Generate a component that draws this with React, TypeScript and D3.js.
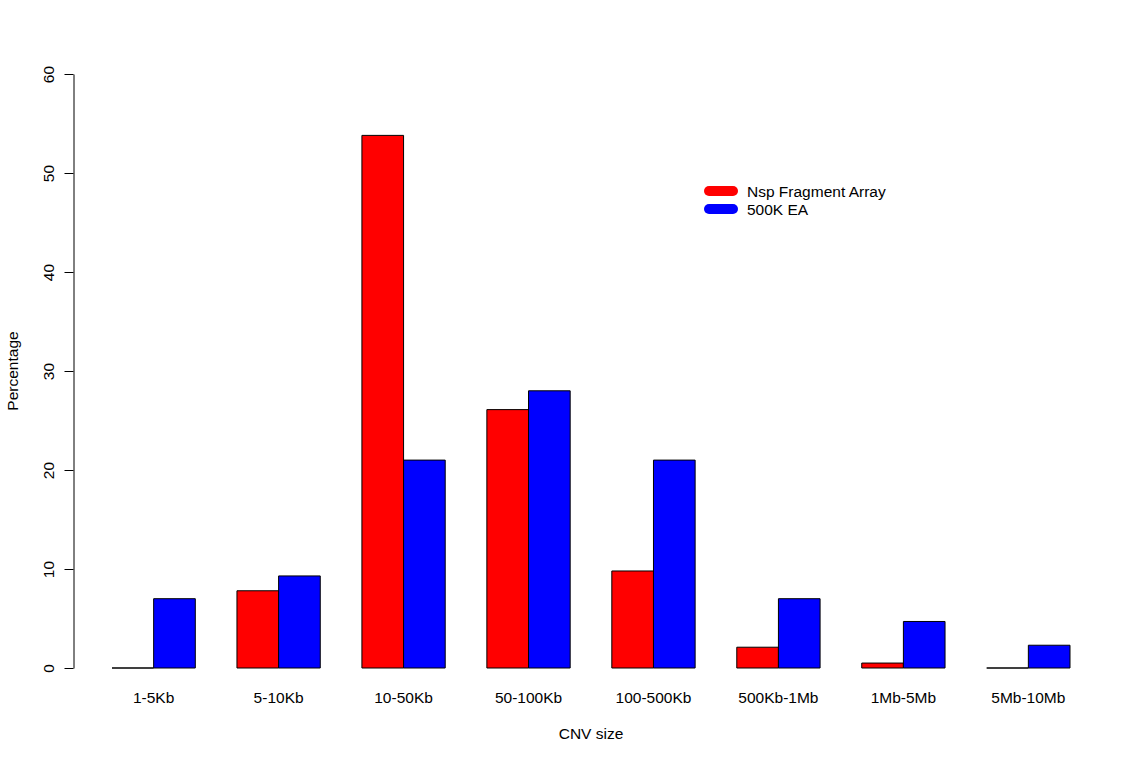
import { useEffect, useRef } from 'react';
import * as d3 from 'd3';

const WIDTH = 1146;
const HEIGHT = 760;

const CATEGORIES = ['1-5Kb', '5-10Kb', '10-50Kb', '50-100Kb', '100-500Kb', '500Kb-1Mb', '1Mb-5Mb', '5Mb-10Mb'];
const SERIES = ['Nsp Fragment Array', '500K EA'];
const NSP_VALUES = [0, 7.8, 53.8, 26.1, 9.8, 2.1, 0.5, 0];
const EA_VALUES = [7.0, 9.3, 21.0, 28.0, 21.0, 7.0, 4.7, 2.3];
const Y_TICKS = [0, 10, 20, 30, 40, 50, 60];
const COLORS = ['#ff0000', '#0000ff'];

const FONT = '"Liberation Sans", Arial, sans-serif';
const FONT_SIZE = 15.5;

export default function App() {
  const svgRef = useRef<SVGSVGElement>(null);

  useEffect(() => {
    if (!svgRef.current) return;
    const svg = d3.select(svgRef.current);
    svg.selectAll('*').remove();

    // scales — plot area taken from the reference pixels
    const x = d3.scaleBand<string>().domain(CATEGORIES).range([112, 1070]).paddingInner(1 / 3).paddingOuter(0);
    const xInner = d3.scaleBand<string>().domain(SERIES).range([0, x.bandwidth()]);
    const y = d3.scaleLinear().domain([0, 60]).range([668, 74]);

    const rows = CATEGORIES.map((c, i) => ({ cat: c, values: [NSP_VALUES[i], EA_VALUES[i]] }));

    // bars (paths so that zero-height bars still show as a line)
    const groups = svg.append('g')
      .selectAll('g')
      .data(rows)
      .join('g')
      .attr('transform', (d) => `translate(${x(d.cat)},0)`);

    groups.selectAll('path')
      .data((d) => d.values.map((v, j) => ({ v, s: SERIES[j], j })))
      .join('path')
      .attr('d', (d) => {
        const x0 = xInner(d.s)!;
        const x1 = x0 + xInner.bandwidth();
        return `M${x0},${y(0)}H${x1}V${y(d.v)}H${x0}Z`;
      })
      .attr('fill', (d) => COLORS[d.j])
      .attr('stroke', '#000')
      .attr('stroke-width', 1);

    // y axis
    const yAxis = svg.append('g')
      .attr('transform', 'translate(73.5,0)')
      .call(d3.axisLeft(y).tickValues(Y_TICKS).tickSize(9).tickSizeOuter(0).tickFormat(d3.format('d')));
    yAxis.select('.domain').attr('stroke', '#000');
    yAxis.selectAll('.tick line').attr('stroke', '#000');
    yAxis.selectAll<SVGTextElement, number>('.tick text')
      .attr('x', null)
      .attr('dy', null)
      .attr('transform', 'translate(-19.5,0) rotate(-90)')
      .attr('text-anchor', 'middle')
      .attr('fill', '#000')
      .attr('font-size', FONT_SIZE)
      .attr('font-family', FONT);

    // x labels
    svg.append('g')
      .selectAll('text')
      .data(CATEGORIES)
      .join('text')
      .attr('x', (d) => x(d)! + x.bandwidth() / 2)
      .attr('y', 703)
      .attr('text-anchor', 'middle')
      .attr('font-size', FONT_SIZE)
      .attr('font-family', FONT)
      .attr('fill', '#000')
      .text((d) => d);

    // axis titles
    svg.append('text')
      .attr('x', 591)
      .attr('y', 739)
      .attr('text-anchor', 'middle')
      .attr('font-size', FONT_SIZE)
      .attr('font-family', FONT)
      .text('CNV size');

    svg.append('text')
      .attr('transform', 'translate(18,371) rotate(-90)')
      .attr('text-anchor', 'middle')
      .attr('font-size', FONT_SIZE)
      .attr('font-family', FONT)
      .text('Percentage');

    // legend
    const legend = svg.append('g').attr('transform', 'translate(709,191)');
    SERIES.forEach((s, i) => {
      legend.append('line')
        .attr('x1', 0).attr('x2', 24)
        .attr('y1', i * 18).attr('y2', i * 18)
        .attr('stroke', COLORS[i])
        .attr('stroke-width', 10)
        .attr('stroke-linecap', 'round');
      legend.append('text')
        .attr('x', 38)
        .attr('y', i * 18 + 6)
        .attr('font-size', FONT_SIZE)
        .attr('font-family', FONT)
        .text(s);
    });
  }, []);

  return (
    <div style={{ position: 'absolute', left: 0, top: 0, background: '#fff' }}>
      <svg ref={svgRef} width={WIDTH} height={HEIGHT} style={{ display: 'block' }} />
    </div>
  );
}
